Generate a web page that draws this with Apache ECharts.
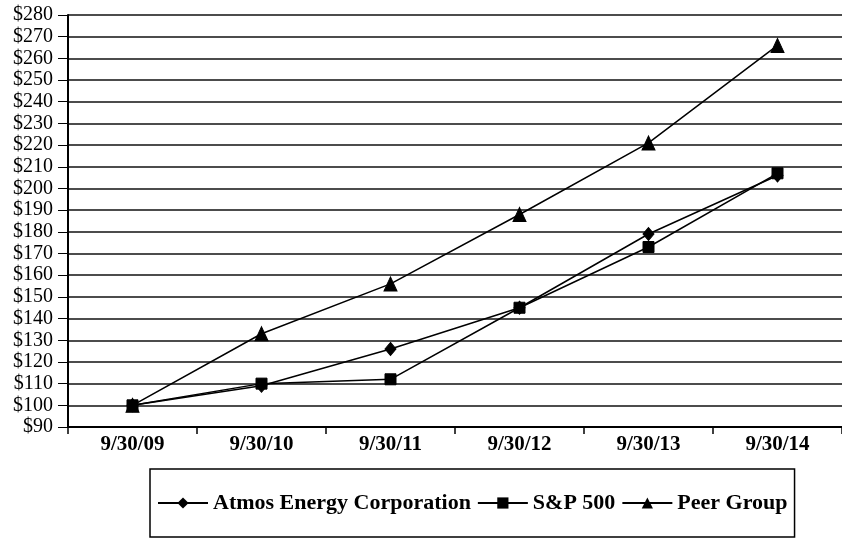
<!DOCTYPE html>
<html>
<head>
<meta charset="utf-8">
<script src="https://cdn.jsdelivr.net/npm/echarts@6/dist/echarts.min.js"></script>
<style>html,body{margin:0;padding:0;background:#fff;}#c{width:842px;height:540px;}</style>
</head>
<body>
<div id="c"></div>
<script>
var categories = ['9/30/09', '9/30/10', '9/30/11', '9/30/12', '9/30/13', '9/30/14'];
var atmos = [100, 109, 126, 145, 179, 206];
var sp500 = [100, 110, 112, 145, 173, 207];
var peer = [100, 133, 156, 188, 221, 266];
var seriesNames = ['Atmos Energy Corporation', 'S&P 500', 'Peer Group'];

var chart = echarts.init(document.getElementById('c'), null, {renderer: 'canvas'});
var serif = "'Liberation Serif', 'Times New Roman', serif";
function mk(name, data, symbol, size) {
  return {
    name: name, type: 'line', data: data, symbol: symbol, symbolSize: size,
    lineStyle: {color: '#000', width: 1.5},
    itemStyle: {color: '#000', borderColor: '#000'},
    animation: false
  };
}
chart.setOption({
  backgroundColor: '#fff',
  animation: false,
  grid: {left: 68, top: 15, width: 782, height: 412},
  xAxis: {
    type: 'category', data: categories, boundaryGap: true,
    axisLine: {lineStyle: {color: '#000', width: 2}},
    axisTick: {show: true, length: 7, inside: false, lineStyle: {color: '#000', width: 1.5}},
    axisLabel: {color: '#000', fontFamily: serif, fontWeight: 'bold', fontSize: 21, margin: 7},
    splitLine: {show: false}
  },
  yAxis: {
    type: 'value', min: 90, max: 280, interval: 10,
    axisLine: {show: true, lineStyle: {color: '#000', width: 2}},
    axisTick: {show: true, length: 10, lineStyle: {color: '#000', width: 1}},
    axisLabel: {color: '#000', fontFamily: serif, fontSize: 20, margin: 15,
      formatter: function (v) { return '$' + v; }},
    splitLine: {show: true, lineStyle: {color: '#111', width: 1.5}}
  },
  legend: {
    data: seriesNames,
    left: 150, top: 469,
    padding: [23, 7],
    borderColor: '#000', borderWidth: 1.5,
    itemWidth: 50, itemHeight: 14, itemGap: 6,
    textStyle: {color: '#000', fontFamily: serif, fontWeight: 'bold', fontSize: 22}
  },
  series: [
    mk(seriesNames[0], atmos, 'diamond', [11, 13]),
    mk(seriesNames[1], sp500, 'rect', [11, 11]),
    mk(seriesNames[2], peer, 'triangle', [13, 14])
  ]
});
</script>
</body>
</html>
